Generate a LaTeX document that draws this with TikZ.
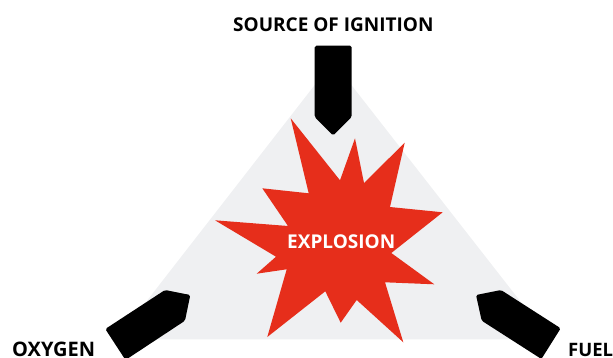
\documentclass[tikz,border=0pt]{standalone}
\usepackage{fontspec}
\setmainfont{Open Sans}
\definecolor{trigray}{HTML}{EFF0F2}
\definecolor{blastred}{HTML}{E62E1B}
\tikzset{
  pointer/.style={fill=black,draw=none,rounded corners=1.6pt},
  lbl/.style={inner sep=0pt,anchor=base west,font=\fontsize{19pt}{20pt}\selectfont\bfseries,text=black}
}
\begin{document}
\begin{tikzpicture}[x=1pt,y=-1pt]
\useasboundingbox (0,0) rectangle (613,358);
\clip (0,0) rectangle (613,358);
\fill[trigray] (333,61.5) -- (550,339.3) -- (117,339.3) -- cycle;
\fill[blastred] (290.7,118.3) -- (340,180.3) -- (355,138.3) -- (364,183) -- (404.7,142.7) -- (390,207) -- (442.7,212.3) -- (391.3,253) -- (434.3,284.3) -- (385,282.3) -- (403.3,342.3) -- (356.7,300) -- (340.7,322.7) -- (325.3,291.3) -- (267.3,337) -- (286.7,269.3) -- (256.7,273.7) -- (276,256.7) -- (215,220.3) -- (288,226) -- (262.3,188.3) -- (308.7,193.3) -- cycle;
\fill[pointer] (314.7,45.7) -- (351.7,45.7) -- (351.7,117) -- (333.2,135.5) -- (314.7,117) -- cycle;
\fill[pointer] (105.3,329) -- (165,290) -- (190.3,295) -- (185,320.7) -- (125.5,360) -- cycle;
\fill[pointer] (560.7,328.3) -- (501,290) -- (476,295) -- (481.7,320.7) -- (541.4,359) -- cycle;
\node[lbl] (ign) at (233,32) {SOURCE OF IGNITION};
\node[lbl,font=\fontsize{20pt}{21pt}\selectfont\bfseries] (oxy) at (12,356) {OXYGEN};
\node[lbl,font=\fontsize{18.5pt}{20pt}\selectfont\bfseries] (fuel) at (568,356) {FUEL};
\node[lbl,text=white] (exp) at (287,248) {EXPLOSION};
\end{tikzpicture}
\end{document}
